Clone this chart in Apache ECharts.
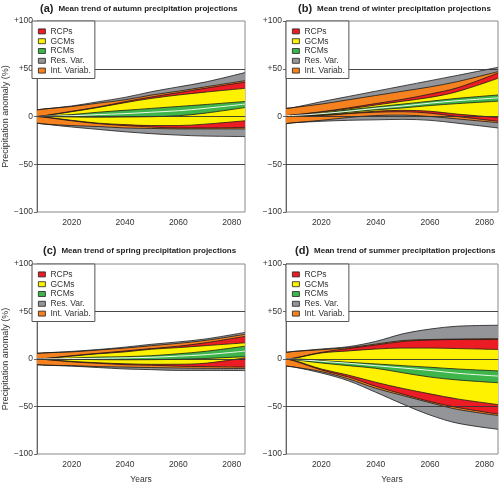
<!DOCTYPE html>
<html><head><meta charset="utf-8">
<script src="https://cdn.jsdelivr.net/npm/echarts@6/dist/echarts.min.js"></script>
<style>html,body{margin:0;padding:0;background:#fff}#c{width:500px;height:486px}</style>
</head><body><div id="c"></div>
<script>
// ---- data ----
const years = [2007, 2010, 2020, 2030, 2040, 2050, 2060, 2070, 2085];
const xTicks = [2020, 2040, 2060, 2080];
const yTicks = [-100, -50, 0, 50, 100];
const bandNames = ['RCPs', 'GCMs', 'RCMs', 'Res. Var.', 'Int. Variab.'];
const panelLetters = ['(a)', '(b)', '(c)', '(d)'];
const panelTitles = ['Mean trend of autumn precipitation projections', 'Mean trend of winter precipitation projections', 'Mean trend of spring precipitation projections', 'Mean trend of summer precipitation projections'];

// (a) autumn
const aGrayTop   = [7, 8, 11, 15.5, 20, 26, 31, 36, 46];
const aOrangeTop = [7, 8, 10.5, 14, 17.5, 22.5, 26.5, 31, 37.5];
const aRedTop    = [0, 1, 5.5, 10, 15.5, 20.5, 25, 29.5, 36];
const aYellowTop = [0, 0.8, 5, 9.5, 14.5, 19, 22.5, 25.5, 29.5];
const aGreenTop  = [0, 0.5, 2, 4.5, 6.5, 8.5, 10.5, 12.5, 15.7];
const aMean      = [0, 0.2, 0.8, 2, 3, 4.5, 6, 8.5, 13];
const aGreenBot  = [0, 0, -0.5, -0.7, -0.5, -0.2, 0.8, 3.5, 9.4];
const aYellowBot = [0, -0.6, -4, -7, -8.5, -9.5, -9.5, -8, -4.5];
const aRedBot    = [0, -0.8, -4.5, -7.5, -9.5, -11, -12, -12, -11.5];
const aOrangeBot = [-7, -8, -9.5, -10.5, -12, -12.5, -13, -13, -13];
const aGrayBot   = [-7, -8, -11, -13.5, -16, -18, -19.5, -20.5, -21];

// (b) winter
const bGrayTop   = [8.5, 9.5, 15.5, 21, 26.5, 32, 37.5, 43, 51.5];
const bOrangeTop = [8.5, 9.5, 13, 17.5, 22, 26.5, 31, 36.5, 47];
const bRedTop    = [1, 1.8, 5, 9, 13.5, 18, 23.5, 30, 45.5];
const bYellowTop = [1, 1.5, 4.5, 8, 12, 16, 20, 26, 40];
const bGreenTop  = [1, 1.3, 3.5, 7, 10, 13, 16, 19, 22.5];
const bMean      = [1, 1.1, 3, 5.5, 8.5, 11, 14, 16.5, 19.5];
const bGreenBot  = [1, 1, 2, 4.5, 7, 9, 11.5, 13.5, 16];
const bYellowBot = [1, 0.9, 1.5, 3.5, 5.5, 6.5, 5.5, 2.5, -1];
const bRedBot    = [1, 0.8, 1, 3, 4.5, 5, 3.5, 0, -5];
const bOrangeBot = [-7.5, -6.5, -4, -1, 1, 1.5, 0, -2.5, -6.5];
const bGrayBot   = [-7.5, -6.5, -5, -4, -3.5, -3, -4, -7, -12];

// (c) spring
const cGrayTop   = [6, 6.5, 8, 10, 12.5, 15.5, 18, 21, 28];
const cOrangeTop = [6, 6.5, 7.5, 9.5, 11.5, 14, 16.5, 19.5, 26];
const cRedTop    = [0, 0.5, 3.5, 6, 8.5, 11, 13.5, 17, 23.8];
const cYellowTop = [0, 0.4, 3, 5.5, 7.5, 10.3, 12, 14, 17];
const cGreenTop  = [0, 0.2, 1, 2, 2.5, 3.5, 5.5, 8, 13.5];
const cMean      = [0, 0.1, 0.5, 0.7, 1.2, 1.8, 3, 4.5, 8.3];
const cGreenBot  = [0, 0, -0.3, -0.7, -0.8, -0.7, -0.3, 0.5, 2.5];
const cYellowBot = [0, -0.4, -2.5, -4, -5, -5.6, -5.5, -4.5, 1.2];
const cRedBot    = [0, -0.5, -3, -4.5, -6, -6.6, -7.5, -8, -8.5];
const cOrangeBot = [-6, -6.5, -7, -8, -8.5, -9, -9.5, -9.8, -10];
const cGrayBot   = [-6, -6.5, -7.5, -9, -10.5, -11.2, -12, -12, -12.2];

// (d) summer
const dGrayTop   = [7, 8, 10.5, 13, 18.5, 26.5, 31.5, 34.5, 35.5];
const dOrangeTop = [7, 8, 9.8, 12, 15.7, 19.5, 20.5, 21, 21.5];
const dRedTop    = [0, 1, 7, 11, 14.7, 18.5, 20, 20.5, 20.5];
const dYellowTop = [0, 0.8, 6.3, 8.5, 10.5, 11.5, 11.5, 11, 10];
const dGreenTop  = [0, 0, -1.7, -3.5, -5.2, -7, -8.7, -10.5, -12.5];
const dMean      = [0, -0.3, -2.4, -4.5, -7, -9.5, -12, -15, -18];
const dGreenBot  = [0, -0.8, -4.2, -7, -9.8, -14.5, -19, -22, -25];
const dYellowBot = [0, -1.5, -10.5, -17, -24.5, -31, -36.7, -42, -48];
const dRedBot    = [0, -2, -11.5, -19, -28.7, -37, -44.8, -51, -58];
const dOrangeBot = [-7.5, -8.5, -13.3, -21, -30.8, -38.5, -46, -53, -59.5];
const dGrayBot   = [-7.5, -8.5, -14.7, -23, -35, -47.5, -59, -67.5, -74];

// ---- styling ----
const FONT = 'Liberation Sans, Arial, sans-serif';
const COL = { 'RCPs': '#ec1c24', 'GCMs': '#fff200', 'RCMs': '#3db54a', 'Res. Var.': '#939598', 'Int. Variab.': '#f5821f' };
const EDGE = '#1a1a1a';
const grids = [
  { left: 32, top: 21, width: 213, height: 191 },
  { left: 286, top: 21, width: 212, height: 191 },
  { left: 32, top: 264, width: 213, height: 190 },
  { left: 286, top: 264, width: 212, height: 190 }
];
const panels = [
  { bands: [['Res. Var.', aGrayBot, aGrayTop], ['Int. Variab.', aOrangeBot, aOrangeTop], ['RCPs', aRedBot, aRedTop], ['GCMs', aYellowBot, aYellowTop], ['RCMs', aGreenBot, aGreenTop]], mean: aMean },
  { bands: [['Res. Var.', bGrayBot, bGrayTop], ['Int. Variab.', bOrangeBot, bOrangeTop], ['RCPs', bRedBot, bRedTop], ['GCMs', bYellowBot, bYellowTop], ['RCMs', bGreenBot, bGreenTop]], mean: bMean },
  { bands: [['Res. Var.', cGrayBot, cGrayTop], ['Int. Variab.', cOrangeBot, cOrangeTop], ['RCPs', cRedBot, cRedTop], ['GCMs', cYellowBot, cYellowTop], ['RCMs', cGreenBot, cGreenTop]], mean: cMean },
  { bands: [['Res. Var.', dGrayBot, dGrayTop], ['Int. Variab.', dOrangeBot, dOrangeTop], ['RCPs', dRedBot, dRedTop], ['GCMs', dYellowBot, dYellowTop], ['RCMs', dGreenBot, dGreenTop]], mean: dMean }
];
const titlePos = [{ left: 40, top: 0 }, { left: 298, top: 0 }, { left: 43, top: 242 }, { left: 295, top: 242 }];

const xAxes = [], yAxes = [], series = [], legends = [], titles = [];
panels.forEach((p, i) => {
  const g = grids[i];
  xAxes.push({
    type: 'value', gridIndex: i, min: 2007, max: 2085,
    name: i >= 2 ? 'Years' : '', nameLocation: 'middle', nameGap: 21,
    nameTextStyle: { fontFamily: FONT, fontSize: 8.5, color: '#333' },
    axisLine: { show: true, lineStyle: { color: '#666', width: 1 } },
    axisTick: { show: true, length: 3, customValues: xTicks, lineStyle: { color: '#666' } },
    axisLabel: { customValues: xTicks, fontFamily: FONT, fontSize: 8.5, color: '#333', margin: 6, formatter: v => String(v) },
    splitLine: { show: false }
  });
  yAxes.push({
    type: 'value', gridIndex: i, min: yTicks[0], max: yTicks[yTicks.length - 1], interval: 50,
    name: (i % 2 === 0) ? 'Precipitation anomaly (%)' : '', nameLocation: 'middle', nameGap: 22,
    nameTextStyle: { fontFamily: FONT, fontSize: 9, color: '#333' },
    axisLine: { show: true, lineStyle: { color: '#666', width: 1 } },
    axisTick: { show: true, length: 3, lineStyle: { color: '#666' } },
    axisLabel: { fontFamily: FONT, fontSize: 8.5, color: '#333', margin: 4,
      formatter: v => v > 0 ? '+' + v : (v < 0 ? '\u2212' + Math.abs(v) : '0') },
    splitLine: { show: false }
  });
  // data columns are [value, year]; the value column comes first so that it is the stacked one
  p.bands.forEach((b, k) => {
    const [name, lo, hi] = b;
    const stackId = 'p' + i + 'b' + k;
    series.push({
      type: 'line', name: '_base' + i + k, xAxisIndex: i, yAxisIndex: i, stack: stackId, stackStrategy: 'all',
      encode: { x: 1, y: 0 },
      data: years.map((y, j) => [lo[j], y]), smooth: 0.35, symbol: 'none', silent: true, z: 3,
      lineStyle: { color: EDGE, width: 0.8 }, animation: false
    });
    series.push({
      type: 'line', name: name, xAxisIndex: i, yAxisIndex: i, stack: stackId, stackStrategy: 'all',
      encode: { x: 1, y: 0 },
      data: years.map((y, j) => [hi[j] - lo[j], y]), smooth: 0.35, symbol: 'none', silent: true, z: 2,
      color: COL[name], itemStyle: { color: COL[name] },
      lineStyle: { color: EDGE, width: 0.8 }, areaStyle: { color: COL[name], opacity: 1 }, animation: false
    });
  });
  series.push({
    type: 'line', name: '_mean' + i, xAxisIndex: i, yAxisIndex: i,
    data: years.map((y, j) => [y, p.mean[j]]), smooth: 0.35, symbol: 'none', silent: true, z: 4,
    lineStyle: { color: '#eef8e8', width: 1 }, animation: false,
    markLine: { silent: true, symbol: 'none', label: { show: false }, animation: false,
      lineStyle: { color: '#333', width: 0.9, type: 'solid' },
      data: [{ yAxis: 0 }, { yAxis: 50 }, { yAxis: -50 }] }
  });
  legends.push({
    data: bandNames, left: g.left, top: g.top, orient: 'vertical', icon: 'rect', z: 20,
    itemWidth: 7, itemHeight: 5, itemGap: 0, padding: [5.5, 4, 3, 6],
    backgroundColor: '#fff', borderColor: '#555', borderWidth: 1, selectedMode: false,
    itemStyle: { borderColor: '#222', borderWidth: 0.8 },
    textStyle: { fontFamily: FONT, fontSize: 8.5, color: '#333', lineHeight: 9.8 }
  });
  titles.push({
    text: '{p|' + panelLetters[i] + '} {t|' + panelTitles[i] + '}',
    left: titlePos[i].left, top: titlePos[i].top, padding: 0,
    textStyle: { rich: {
      p: { fontFamily: FONT, fontSize: 11, color: '#222' },
      t: { fontFamily: FONT, fontSize: 8, fontWeight: 'bold', color: '#222' } } }
  });
});

const chart = echarts.init(document.getElementById('c'), null, { renderer: 'canvas' });
chart.setOption({
  backgroundColor: '#fff', animation: false,
  title: titles,
  legend: legends,
  grid: grids.map(g => Object.assign({ show: true, borderColor: '#888', borderWidth: 1, backgroundColor: 'transparent', containLabel: false }, g)),
  xAxis: xAxes, yAxis: yAxes, series: series
});
</script></body></html>
